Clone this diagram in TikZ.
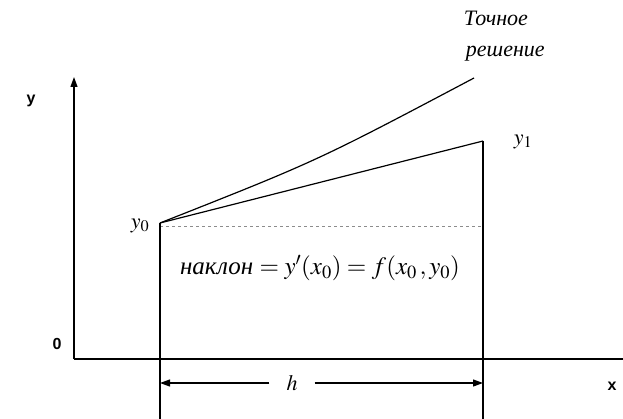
\documentclass[tikz,border=0pt]{standalone}
\usepackage{mathptmx}
\usepackage{fontspec}
\setmainfont{Liberation Serif}
\setsansfont{Liberation Sans}
\usetikzlibrary{arrows.meta}

\begin{document}
\begin{tikzpicture}[x=1pt,y=-1pt,line width=1.2pt,
    axislabel/.style={font=\sffamily\bfseries\fontsize{16}{19}\selectfont},
    itlabel/.style={font=\itshape\fontsize{22}{25}\selectfont},
    tip/.style={-{Triangle[width=7pt,length=10pt]}}]
    \useasboundingbox (0,0) rectangle (623,419);

    % axes
    \coordinate (O) at (74,359);
    \coordinate (ytop) at (74,77);
    \coordinate (xend) at (623,359);
    \draw[tip] (O) -- (ytop);
    \draw (O) -- (xend);
    \node[axislabel] (ylab) at (31,101) {y};
    \node[axislabel] (zero) at (57,344) {0};
    \node[axislabel] (xlab) at (612,386) {x};

    % start point, Euler step and exact solution
    \coordinate (P0) at (160,223);
    \coordinate (P1) at (483,141);
    \coordinate (Pe) at (474,78);
    \draw (P0) -- (P1);
    \draw (P0) .. controls (317,161) .. (Pe);
    \draw[black!45,dashed,line width=0.6pt] (160,226) -- (483,226);

    % verticals down through the x axis
    \coordinate (B0) at (160,419);
    \coordinate (B1) at (483,419);
    \draw (P0) -- (B0);
    \draw (P1) -- (B1);

    \node[itlabel] (y0) at (140,226) {$y_0$};
    \node[itlabel] (y1) at (523,142) {$y_1$};
    \node[itlabel,anchor=west] (exact1) at (460,18) {Точное};
    \node[itlabel,anchor=west] (exact2) at (462,54) {решение};
    \node[itlabel,font=\itshape\fontsize{25}{28}\selectfont] (slope) at (320,268)
        {наклон $= y'(x_0) = f(x_0\,,y_0)$};

    % step width h
    \node[itlabel,minimum width=44pt] (h) at (292,383) {$h$};
    \coordinate (hl) at (160,383);
    \coordinate (hr) at (483,383);
    \draw[tip] (h.west) -- (hl);
    \draw[tip] (h.east) -- (hr);
\end{tikzpicture}
\end{document}
